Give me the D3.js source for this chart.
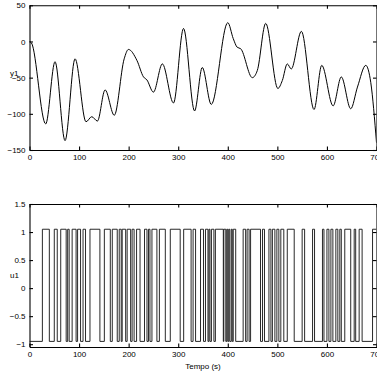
<!DOCTYPE html>
<html>
<head>
<meta charset="utf-8">
<script src="https://cdn.jsdelivr.net/npm/d3@7/dist/d3.min.js"></script>
<style>
  body { margin: 0; background: #fff; }
  svg { display: block; }
  text { font-family: "Liberation Sans", Arial, sans-serif; font-size: 8px; fill: #000; }
  .axis path, .axis line { stroke: #000; stroke-width: 1.1; }
</style>
</head>
<body>
<div id="chart"></div>
<script>
// y1 output (time s, value)
const y1Time = [0, 4, 32.7, 51.5, 71.7, 91.9, 114, 125.6, 137, 152.5, 171, 191, 199.6, 216.6, 230, 236.7, 250, 268, 290.5, 310.7, 333, 348.5, 366.7, 400, 411, 419, 426, 449.5, 459.6, 476.5, 501, 510, 520, 528, 548.5, 574, 589.5, 612.5, 629, 648, 661.6, 678.4, 688.5, 700];
const y1Vals = [0, -2, -114, -28, -137, -24, -111, -104, -110, -67, -102, -24, -11, -26, -49, -53, -70, -31, -85, 18, -96, -36, -87, 26, 4, -8, -10, -50, -40, 25, -65, -54, -31, -38, 14, -94, -33, -89, -49, -93, -63, -33, -57, -140];

// u1 input: switching instants (s), starts low, alternates
const u1Switch = [26, 40, 50, 56, 63, 74, 77, 80, 86, 94, 97, 103, 108, 113, 122, 142, 151, 163, 167, 177, 181, 185, 187, 194, 197, 204, 207, 211, 216, 223, 232, 237, 240, 243, 247, 257, 262, 274, 284, 304, 311, 326, 330, 335, 345, 351, 355, 360, 362, 364, 367, 372, 375, 391, 392, 396, 398, 400, 402, 404, 407, 409, 411, 416, 431, 436, 439, 443, 446, 466, 470, 474, 483, 487, 490, 495, 499, 503, 507, 513, 520, 534, 550, 555, 571, 575, 591, 594, 600, 604, 608, 612, 618, 622, 626, 629, 636, 648, 655, 658, 665, 671, 692];
const u1Low = -0.95, u1High = 1.05;

const xTicks = [0, 100, 200, 300, 400, 500, 600, 700];
const y1Ticks = [-150, -100, -50, 0, 50];
const u1Ticks = [-1, -0.5, 0, 0.5, 1, 1.5];

const W = 377, H = 378;
const left = 29.5, right = 376.5;

const svg = d3.select("#chart").append("svg")
  .attr("width", W).attr("height", H);

const x = d3.scaleLinear().domain([0, 700]).range([left, right]);

function panel(yDomain, yRange, ticks, fmt, ylabel, labelY, id) {
  const y = d3.scaleLinear().domain(yDomain).range(yRange);
  const top = yRange[1], bottom = yRange[0];

  svg.append("clipPath").attr("id", id)
    .append("rect").attr("x", left).attr("y", top)
    .attr("width", right - left).attr("height", bottom - top);

  svg.append("g").attr("class", "axis")
    .attr("transform", "translate(0," + bottom + ")")
    .call(d3.axisBottom(x).tickValues(xTicks).tickSizeInner(-3.5).tickSizeOuter(0).tickPadding(4));

  svg.append("g").attr("class", "axis")
    .attr("transform", "translate(0," + top + ")")
    .call(d3.axisTop(x).tickValues(xTicks).tickSizeInner(-3.5).tickSizeOuter(0).tickFormat(""));

  svg.append("g").attr("class", "axis")
    .attr("transform", "translate(" + left + ",0)")
    .call(d3.axisLeft(y).tickValues(ticks).tickSizeInner(-3.5).tickSizeOuter(0).tickPadding(4).tickFormat(fmt));

  svg.append("g").attr("class", "axis")
    .attr("transform", "translate(" + right + ",0)")
    .call(d3.axisRight(y).tickValues(ticks).tickSizeInner(-3.5).tickSizeOuter(0).tickFormat(""));

  svg.selectAll(".axis text").style("font-size", "8px").style("font-family", "'Liberation Sans', Arial, sans-serif");

  svg.append("text")
    .attr("x", 10).attr("y", labelY)
    .attr("text-anchor", "start")
    .text(ylabel);

  return y;
}

// top: y1
const yTop = panel([-150, 50], [150, 5.3], y1Ticks, d3.format("d"), "y1", 76, "clipTop");
const y1Data = y1Time.map((t, i) => ({ t: t, v: y1Vals[i] }));
svg.append("path")
  .datum(y1Data)
  .attr("clip-path", "url(#clipTop)")
  .attr("fill", "none").attr("stroke", "#000").attr("stroke-width", 1)
  .attr("d", d3.line().x(d => x(d.t)).y(d => yTop(d.v)).curve(d3.curveMonotoneX));

// bottom: u1
const yBot = panel([-1.05, 1.5], [347, 204], u1Ticks, d3.format("~g"), "u1", 278, "clipBot");
let level = u1Low;
const u1Data = [{ t: 0, v: level }];
u1Switch.forEach(s => {
  level = level === u1Low ? u1High : u1Low;
  u1Data.push({ t: s, v: level });
});
u1Data.push({ t: 700, v: level });
svg.append("path")
  .datum(u1Data)
  .attr("clip-path", "url(#clipBot)")
  .attr("fill", "none").attr("stroke", "#111").attr("stroke-width", 0.9)
  .attr("d", d3.line().x(d => x(d.t)).y(d => yBot(d.v)).curve(d3.curveStepAfter));

svg.append("text")
  .attr("x", (left + right) / 2).attr("y", 369)
  .attr("text-anchor", "middle")
  .text("Tempo (s)");
</script>
</body>
</html>
